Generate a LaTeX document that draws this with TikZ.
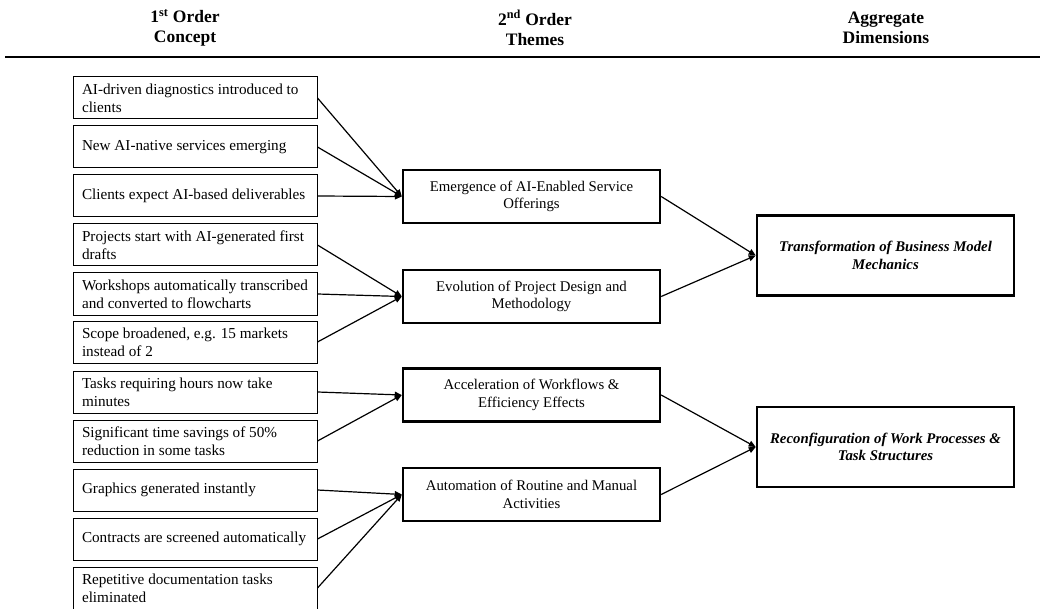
\documentclass[tikz,border=0pt]{standalone}
\usepackage{fontspec}
\setmainfont{Liberation Serif}
\usetikzlibrary{arrows.meta}

\begin{document}
\begin{tikzpicture}[x=1pt, y=-1pt, >={Triangle[length=7pt, width=6pt]}]

\tikzstyle{concept} = [draw, line width=1pt, text width=226pt, inner xsep=9pt, inner ysep=0pt, minimum height=42pt, align=flush left, font=\fontsize{15.2}{17.7}\selectfont]
\tikzstyle{theme} = [draw, line width=2.4pt, text width=240pt, inner xsep=8.5pt, inner ysep=0pt, minimum height=53pt, align=flush center, font=\fontsize{14.8}{17.5}\selectfont]
\tikzstyle{dimension} = [draw, line width=2.6pt, text width=240pt, inner xsep=8.5pt, inner ysep=0pt, minimum height=80pt, align=flush center, font=\fontsize{14.8}{17.7}\selectfont\bfseries\itshape]
\tikzstyle{heading} = [align=center, font=\fontsize{17.5}{20.5}\selectfont\bfseries]
\tikzstyle{link} = [->, line width=1.2pt]

\useasboundingbox (0,0) rectangle (1040,609);

% --- column heads
\node[heading] (h1) at (185,28) {1\textsuperscript{st} Order\\Concept};
\node[heading] (h2) at (535,28) {2\textsuperscript{nd} Order\\Themes};
\node[heading] (h3) at (886,28) {Aggregate\\Dimensions};

\coordinate (rule_l) at (5,57);
\coordinate (rule_r) at (1040,57);
\draw[line width=1.5pt] (rule_l) -- (rule_r);

% --- 1st order concepts
\node[concept] (c1) at (195,98) {AI-driven diagnostics introduced to\\clients};
\node[concept] (c2) at (195,147) {New AI-native services emerging};
\node[concept] (c3) at (195,196) {Clients expect AI-based deliverables};
\node[concept] (c4) at (195,245) {Projects start with AI-generated first\\drafts};
\node[concept] (c5) at (195,294) {Workshops automatically transcribed\\and converted to flowcharts};
\node[concept] (c6) at (195,342) {Scope broadened, e.g. 15 markets\\instead of 2};
\node[concept] (c7) at (195,392) {Tasks requiring hours now take\\minutes};
\node[concept] (c8) at (195,441) {Significant time savings of 50\%\\reduction in some tasks};
\node[concept] (c9) at (195,490) {Graphics generated instantly};
\node[concept] (c10) at (195,539) {Contracts are screened automatically};
\node[concept] (c11) at (195,588) {Repetitive documentation tasks\\eliminated};

% --- 2nd order themes
\node[theme] (t1) at (531.5,196.5) {Emergence of AI-Enabled Service\\Offerings};
\node[theme] (t2) at (531.5,296.5) {Evolution of Project Design and\\Methodology};
\node[theme] (t3) at (531.5,395) {Acceleration of Workflows \&\\Efficiency Effects};
\node[theme] (t4) at (531.5,494.5) {Automation of Routine and Manual\\Activities};

% --- aggregate dimensions
\node[dimension] (d1) at (885.5,255.5) {Transformation of Business Model\\Mechanics};
\node[dimension] (d2) at (885.5,447) {Reconfiguration of Work Processes \&\\Task Structures};

% --- concepts -> themes
\draw[link] (c1.east) -- (t1.west);
\draw[link] (c2.east) -- (t1.west);
\draw[link] (c3.east) -- (t1.west);

\draw[link] (c4.east) -- (t2.west);
\draw[link] (c5.east) -- (t2.west);
\draw[link] (c6.east) -- (t2.west);

\draw[link] (c7.east) -- (t3.west);
\draw[link] (c8.east) -- (t3.west);

\draw[link] (c9.east) -- (t4.west);
\draw[link] (c10.east) -- (t4.west);
\draw[link] (c11.east) -- (t4.west);

% --- themes -> dimensions
\draw[link] (t1.east) -- (d1.west);
\draw[link] (t2.east) -- (d1.west);
\draw[link] (t3.east) -- (d2.west);
\draw[link] (t4.east) -- (d2.west);

\end{tikzpicture}
\end{document}
